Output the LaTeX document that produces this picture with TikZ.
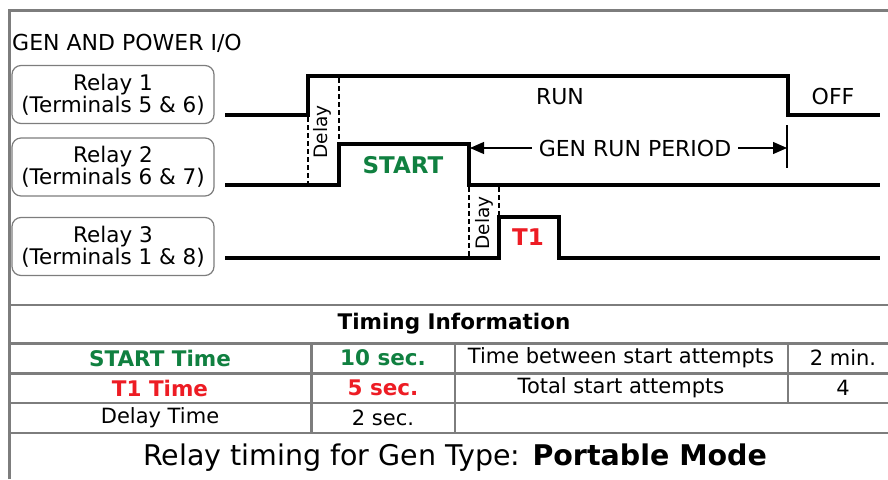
\documentclass[tikz,border=0pt]{standalone}
\usepackage{fontspec}
\setmainfont{DejaVu Sans}
\usetikzlibrary{arrows.meta}
\definecolor{startgreen}{RGB}{16,128,64}
\definecolor{tonered}{RGB}{237,28,36}
\definecolor{framegray}{RGB}{125,125,125}
\begin{document}
\begin{tikzpicture}[x=1pt, y=-1pt,
    relay/.style={rectangle, draw=framegray, line width=1.2pt, rounded corners=9pt,
        minimum width=202pt, minimum height=58pt, inner sep=0pt,
        align=center, font=\fontsize{21.5}{20}\selectfont},
    signal/.style={line width=4pt},
    delayline/.style={line width=2pt, dash pattern=on 5pt off 3pt},
    delaytext/.style={rotate=90, inner sep=0pt, font=\fontsize{18.5}{18.5}\selectfont},
    phase/.style={font=\fontsize{22}{22}\selectfont},
    pulse/.style={font=\bfseries\fontsize{23}{23}\selectfont},
    frame/.style={draw=framegray, line width=2.6pt},
    cell/.style={font=\fontsize{21}{21}\selectfont},
    boldcell/.style={font=\bfseries\fontsize{21.5}{21.5}\selectfont}
]
\useasboundingbox (0,0) rectangle (888,479);

% outer frame
\draw[frame] (9.5,479) -- (9.5,10.5) -- (888,10.5);

\node (Title) [anchor=west, phase, inner sep=0pt] at (12,43) {GEN AND POWER I/O};

\node (Relay01) [relay] at (113,94.5) {Relay 1\\(Terminals 5 \& 6)};
\node (Relay02) [relay] at (113,167) {Relay 2\\(Terminals 6 \& 7)};
\node (Relay03) [relay] at (113,246.5) {Relay 3\\(Terminals 1 \& 8)};

% waveforms
\draw[signal] (225,115) -- (308,115) -- (308,76) -- (788,76) -- (788,115) -- (880,115);
\draw[signal] (225,185) -- (339,185) -- (339,144) -- (469,144) -- (469,185) -- (880,185);
\draw[signal] (225,258) -- (499,258) -- (499,217) -- (559,217) -- (559,258) -- (880,258);

% delays
\draw[delayline] (308,117) -- (308,185);
\draw[delayline] (339,78) -- (339,144);
\draw[delayline] (469,187) -- (469,258);
\draw[delayline] (499,187) -- (499,217);
\node (Delay01) [delaytext] at (322,132) {Delay};
\node (Delay02) [delaytext] at (484,223) {Delay};

\node (Run) [phase] at (560,97) {RUN};
\node (Off) [phase] at (833,96) {OFF};
\node (Start) [pulse, text=startgreen] at (403,165) {START};
\node (Tone) [pulse, text=tonered] at (528,237) {T1};

% run period
\coordinate (PeriodA) at (470,148);
\coordinate (PeriodB) at (787,148);
\draw[line width=1.2pt] (787,125) -- (787,168);
\draw[line width=1.2pt, {Triangle[length=14pt,width=12pt]}-{Triangle[length=14pt,width=12pt]}]
    (PeriodA) -- (PeriodB);
\node (Period) [phase, fill=white, inner xsep=7pt] at (635,148) {GEN RUN PERIOD};

% timing table
\foreach \y in {305,343.5,373.5,403,433}
    \draw[frame] (9.5,\y) -- (888,\y);
\draw[frame] (311.5,343.5) -- (311.5,433);
\draw[frame] (455,343.5) -- (455,433);
\draw[frame] (788,343.5) -- (788,403);

\node (Header) [boldcell] at (454,324) {Timing Information};
\node (StartTime) [boldcell, text=startgreen] at (160,358) {START Time};
\node (StartValue) [boldcell, text=startgreen] at (383,358) {10 sec.};
\node (ToneTime) [boldcell, text=tonered] at (160,388) {T1 Time};
\node (ToneValue) [boldcell, text=tonered] at (383,388) {5 sec.};
\node (DelayTime) [cell] at (160,418) {Delay Time};
\node (DelayValue) [cell] at (383,418) {2 sec.};
\node (Between) [cell] at (621,358) {Time between start attempts};
\node (BetweenValue) [cell] at (843,358) {2 min.};
\node (Attempts) [cell] at (621,388) {Total start attempts};
\node (AttemptsValue) [cell] at (843,388) {4};

\node (Caption) [font=\fontsize{28.5}{28.5}\selectfont] at (455,458)
    {Relay timing for Gen Type: \textbf{Portable Mode}};
\end{tikzpicture}
\end{document}
